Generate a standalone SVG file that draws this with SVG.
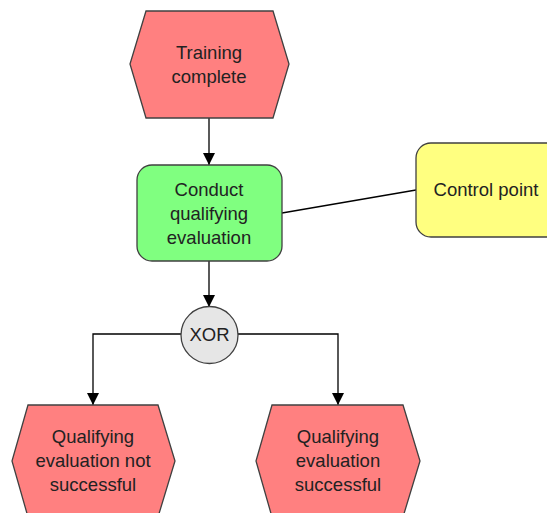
<svg xmlns="http://www.w3.org/2000/svg" width="547" height="513" viewBox="0 0 547 513">
<defs>
<style>
.ev{fill:#ff8080;stroke:#404040;stroke-width:1.3}
.fn{fill:#80ff80;stroke:#404040;stroke-width:1.3}
.ct{fill:#ffff80;stroke:#404040;stroke-width:1.3}
.op{fill:#e6e6e6;stroke:#404040;stroke-width:1.3}
.c{fill:none;stroke:#000;stroke-width:1.3}
text{font-family:"Liberation Sans",Arial,sans-serif;font-size:18.5px;fill:#222;text-anchor:middle}
</style>
<marker id="ah" viewBox="0 0 12 12" refX="12" refY="6" markerWidth="12" markerHeight="12" markerUnits="userSpaceOnUse" orient="auto">
<path d="M0,0 L12,6 L0,12 z" fill="#000"/>
</marker>
</defs>
<g id="connectors">
<line class="c" x1="209" y1="118" x2="209" y2="165" marker-end="url(#ah)"/>
<line class="c" x1="209" y1="261" x2="209" y2="307" marker-end="url(#ah)"/>
<line class="c" x1="282" y1="213" x2="416" y2="190"/>
<polyline class="c" points="181,334 93,334 93,405" marker-end="url(#ah)"/>
<polyline class="c" points="238,334 338,334 338,405" marker-end="url(#ah)"/>
</g>
<g id="training-complete">
<polygon class="ev" points="146,11 273,11 289,64 273,118 146,118 130,64"/>
<text x="209" y="59">Training</text>
<text x="209" y="83">complete</text>
</g>
<g id="conduct-evaluation">
<rect class="fn" x="137" y="165" width="145" height="96" rx="15"/>
<text x="209" y="196">Conduct</text>
<text x="209" y="220">qualifying</text>
<text x="209" y="244">evaluation</text>
</g>
<g id="control-point">
<rect class="ct" x="416" y="143" width="150" height="94" rx="15"/>
<text x="486" y="196">Control point</text>
</g>
<g id="xor">
<circle class="op" cx="209.5" cy="335" r="28.5"/>
<text x="209.5" y="341">XOR</text>
</g>
<g id="not-successful">
<polygon class="ev" points="28,405 158,405 175,461 158,517 28,517 12,461"/>
<text x="93" y="443">Qualifying</text>
<text x="93" y="467">evaluation not</text>
<text x="93" y="491">successful</text>
</g>
<g id="successful">
<polygon class="ev" points="272,405 403,405 420,461 403,517 272,517 256,461"/>
<text x="338" y="443">Qualifying</text>
<text x="338" y="467">evaluation</text>
<text x="338" y="491">successful</text>
</g>
</svg>
